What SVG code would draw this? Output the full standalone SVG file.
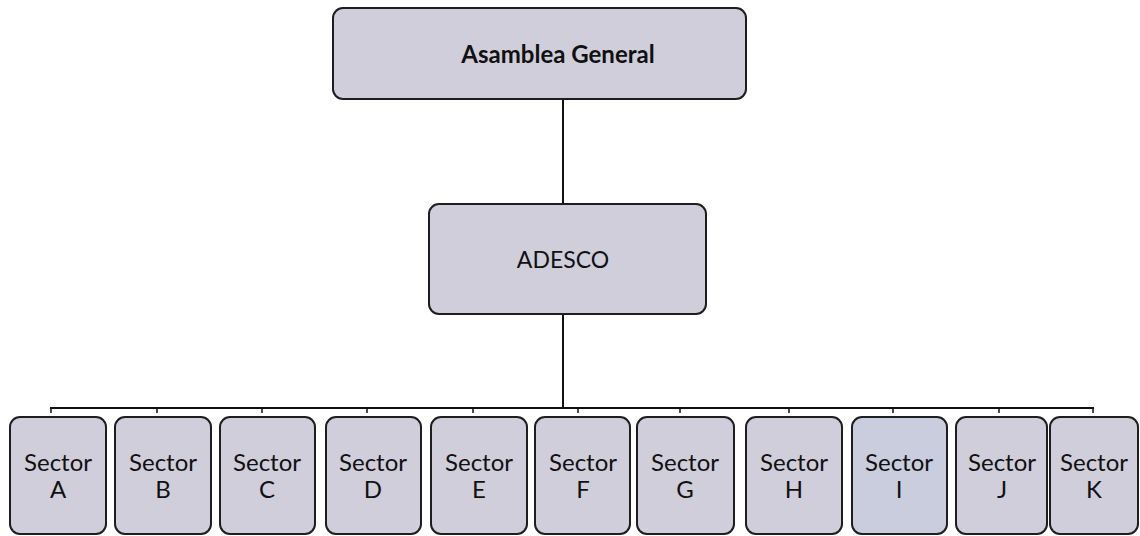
<svg xmlns="http://www.w3.org/2000/svg" width="1140" height="536" viewBox="0 0 1140 536">
<style>
.box{fill:#d0cedb;stroke:#1e1e1e;stroke-width:2}
.boxi{fill:#c9cddd;stroke:#1e1e1e;stroke-width:2}
.t{font-family:Lato,"Liberation Sans",sans-serif;font-size:24px;fill:#111;text-anchor:middle}
.b{font-weight:bold;font-size:24px}
.a{font-size:23px}
.ln{stroke:#111;stroke-width:2;fill:none}
.tk{stroke:#111;stroke-width:1.5;fill:none}
</style>
<rect width="1140" height="536" fill="#ffffff"/>
<g id="connectors">
<line class="ln" x1="563" y1="99" x2="563" y2="204"/>
<line class="ln" x1="563" y1="314" x2="563" y2="408"/>
<line class="ln" x1="50" y1="408" x2="1094" y2="408"/>
<path class="tk" d="M51 408v5M157 408v5M262 408v5M367 408v5M473 408v5M578 408v5M680 408v5M789 408v5M893 408v5M999 408v5M1093 408v5"/>
</g>
<g id="asamblea"><rect class="box" x="333" y="8" width="413" height="91" rx="10"/><text class="t b" x="558" y="63">Asamblea General</text></g>
<g id="adesco"><rect class="box" x="429" y="204" width="277" height="110" rx="10"/><text class="t a" x="563" y="268">ADESCO</text></g>
<g id="sectorA"><rect class="box" x="10" y="417" width="96" height="117" rx="10"/><text class="t" x="58" y="471">Sector</text><text class="t" x="58" y="498">A</text></g>
<g id="sectorB"><rect class="box" x="115" y="417" width="96" height="117" rx="10"/><text class="t" x="163" y="471">Sector</text><text class="t" x="163" y="498">B</text></g>
<g id="sectorC"><rect class="box" x="220" y="417" width="95" height="117" rx="10"/><text class="t" x="267" y="471">Sector</text><text class="t" x="267" y="498">C</text></g>
<g id="sectorD"><rect class="box" x="326" y="417" width="95" height="117" rx="10"/><text class="t" x="373" y="471">Sector</text><text class="t" x="373" y="498">D</text></g>
<g id="sectorE"><rect class="box" x="431" y="417" width="96" height="117" rx="10"/><text class="t" x="479" y="471">Sector</text><text class="t" x="479" y="498">E</text></g>
<g id="sectorF"><rect class="box" x="535" y="417" width="95" height="117" rx="10"/><text class="t" x="583" y="471">Sector</text><text class="t" x="583" y="498">F</text></g>
<g id="sectorG"><rect class="box" x="637" y="417" width="97" height="117" rx="10"/><text class="t" x="685" y="471">Sector</text><text class="t" x="685" y="498">G</text></g>
<g id="sectorH"><rect class="box" x="746" y="417" width="96" height="117" rx="10"/><text class="t" x="794" y="471">Sector</text><text class="t" x="794" y="498">H</text></g>
<g id="sectorI"><rect class="boxi" x="852" y="417" width="95" height="117" rx="10"/><text class="t" x="899" y="471">Sector</text><text class="t" x="899" y="498">I</text></g>
<g id="sectorJ"><rect class="box" x="956" y="417" width="91" height="117" rx="10"/><text class="t" x="1002" y="471">Sector</text><text class="t" x="1002" y="498">J</text></g>
<g id="sectorK"><rect class="box" x="1050" y="417" width="88" height="117" rx="10"/><text class="t" x="1094" y="471">Sector</text><text class="t" x="1094" y="498">K</text></g>
</svg>
